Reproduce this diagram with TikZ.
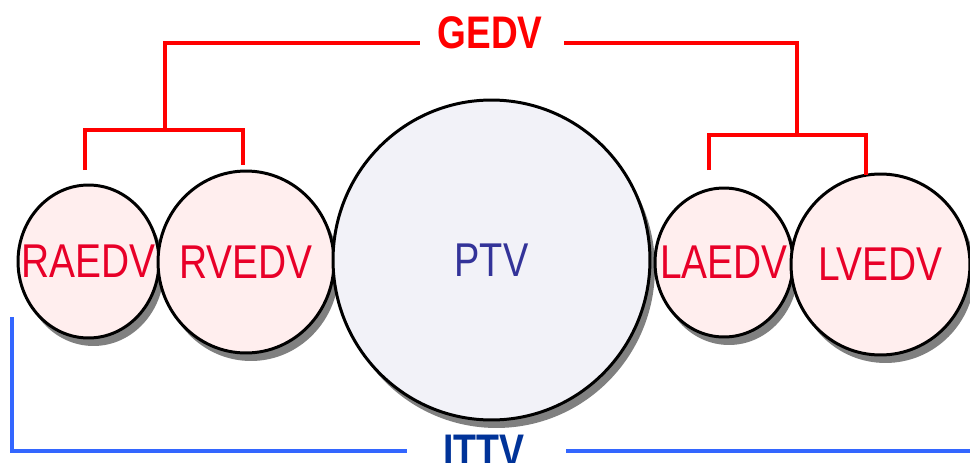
\documentclass[tikz,border=0pt]{standalone}
\usepackage{fontspec}
\setmainfont{Liberation Sans}
\usetikzlibrary{shapes.geometric,shadows}
\definecolor{circtext}{RGB}{232,0,40}
\definecolor{ptvtext}{RGB}{51,51,153}
\definecolor{ittvtext}{RGB}{0,51,153}
\definecolor{redline}{RGB}{255,0,0}
\definecolor{blueline}{RGB}{51,102,255}
\definecolor{pinkfill}{RGB}{255,238,238}
\definecolor{ptvfill}{RGB}{242,242,248}
\newcommand{\voltext}[2][0.82]{\makebox[0pt]{\scalebox{#1}[1]{#2}}}
\tikzset{
  vol/.style={ellipse, draw=black, line width=1.7pt, inner sep=0pt,
    drop shadow={shadow xshift=0.1cm, shadow yshift=-0.16cm, fill=gray, opacity=1},
    font=\fontsize{27pt}{30pt}\selectfont},
  chamber/.style={vol, fill=pinkfill, text=circtext},
  lbl/.style={font=\bfseries\fontsize{26pt}{30pt}\selectfont, inner sep=0pt},
  redbr/.style={draw=redline, line width=2.3pt},
  bluebr/.style={draw=blueline, line width=2.3pt},
}
\begin{document}
\begin{tikzpicture}[x=0.02cm,y=-0.02cm]
\useasboundingbox (0,0) rectangle (970,463);
\fill[white] (0,0) rectangle (970,463);
% chambers
\node[chamber, minimum width=2.82cm, minimum height=3.06cm] (raedv) at (88.5,261.5) {\voltext{RAEDV}};
\node[chamber, minimum width=3.52cm, minimum height=3.64cm] (rvedv) at (246,262) {\voltext{RVEDV}};
\node[vol, fill=ptvfill, text=ptvtext, minimum width=6.34cm, minimum height=6.40cm] (ptv) at (491.5,260) {\voltext[0.80]{PTV}};
\node[chamber, minimum width=2.76cm, minimum height=2.98cm] (laedv) at (724,262.5) {\voltext{LAEDV}};
\node[chamber, minimum width=3.58cm, minimum height=3.62cm] (lvedv) at (880.5,264.5) {\voltext{LVEDV}};
% labels
\node[lbl, text=redline] (gedv) at (490,33) {\scalebox{0.81}[1]{GEDV}};
\node[lbl, text=ittvtext] (ittv) at (484,451) {\scalebox{0.82}[1]{ITTV}};
% red brackets
\coordinate (g1) at (420,43);
\coordinate (g2) at (564,43);
\coordinate (lt) at (165,130);
\coordinate (rt) at (797,135);
\draw[redbr] (85,170) |- (243,130) -- (243,165);
\draw[redbr] (lt) |- (g1);
\draw[redbr] (g2) -| (rt);
\draw[redbr] (709,170) |- (866,135) -- (866,175);
% blue bracket
\coordinate (b0) at (12,317);
\coordinate (b1) at (407,451);
\coordinate (b2) at (566,451);
\coordinate (b3) at (975,451);
\draw[bluebr] (b0) |- (b1);
\draw[bluebr] (b2) -- (b3);
\end{tikzpicture}
\end{document}
